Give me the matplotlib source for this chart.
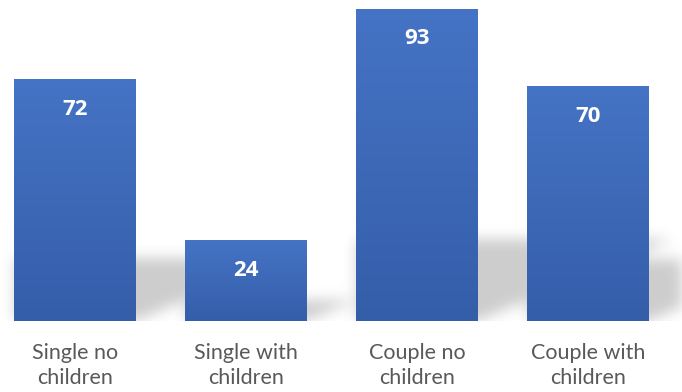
import numpy as np
import matplotlib
matplotlib.use("Agg")
import matplotlib.pyplot as plt
from matplotlib.colors import LinearSegmentedColormap

categories = ["Single no\nchildren", "Single with\nchildren", "Couple no\nchildren", "Couple with\nchildren"]
values = [72, 24, 93, 70]

plt.rcParams['font.family'] = ['Lato', 'DejaVu Sans']

W, H, DPI = 682, 392, 100
fig = plt.figure(figsize=(W / DPI, H / DPI), dpi=DPI)
ax = fig.add_axes([0, 1 - 321 / H, 1, (321 - 9) / H])
ax.set_xlim(-0.44, 3.547)
ax.set_ylim(0, 93)
for s in ax.spines.values():
    s.set_visible(False)
ax.set_yticks([])
x = np.arange(len(values))
ax.set_xticks(x)
ax.set_xticklabels(categories, fontsize=15.5, color="#595959", linespacing=1.3)
ax.tick_params(axis="x", length=0, pad=16)

bar_w = 0.713
bars = ax.bar(x, values, width=bar_w, color="none", zorder=3)

# vertical gradient fill inside each bar
grad_cmap = LinearSegmentedColormap.from_list("g", ["#355ea9", "#4573c5"])
grad = np.linspace(0, 1, 256).reshape(-1, 1)
for b in bars:
    x0, y0 = b.get_x(), b.get_y()
    ax.imshow(grad, cmap=grad_cmap, origin="lower", aspect="auto",
              extent=[x0, x0 + b.get_width(), y0, y0 + b.get_height()],
              zorder=3, interpolation="bilinear")

# soft perspective shadow behind bars, built in pixel space
fig.canvas.draw()
tr = ax.transData
ax_bb = ax.get_window_extent()
pw, ph = int(round(ax_bb.width)), int(round(ax_bb.height))
xs = np.arange(pw)[None, :]
ys = np.arange(ph)[:, None]  # 0 at baseline, upward
alpha = np.zeros((ph, pw))
for b in bars:
    (lx, _), (rx, top) = tr.transform([(b.get_x(), 0), (b.get_x() + b.get_width(), b.get_height())])
    lx -= ax_bb.x0
    rx -= ax_bb.x0
    hgt = top - ax_bb.y0
    hs = 0.26 * hgt
    lower = np.maximum(0, xs - rx) * 0.42
    m = (xs >= lx) & (ys >= lower) & (ys <= hs)
    alpha = np.maximum(alpha, m.astype(float))

def blur(a, sig):
    k = np.arange(-3 * sig, 3 * sig + 1)
    k = np.exp(-k ** 2 / (2 * sig ** 2))
    k /= k.sum()
    a = np.apply_along_axis(lambda r: np.convolve(r, k, mode="same"), 1, a)
    a = np.apply_along_axis(lambda c: np.convolve(c, k, mode="same"), 0, a)
    return a

alpha = blur(alpha, 7) * 0.2
rgba = np.zeros((ph, pw, 4))
rgba[..., 3] = alpha
ax.imshow(rgba, origin="lower", aspect="auto", extent=[*ax.get_xlim(), *ax.get_ylim()],
          zorder=1, interpolation="bilinear")

for xi, v in zip(x, values):
    ax.annotate(str(v), (xi, v), xytext=(0, -30), textcoords="offset pixels",
                ha="center", va="center", color="white", fontsize=16,
                fontweight="bold", family=["Open Sans", "DejaVu Sans"], zorder=5)

ax.set_xlim(-0.44, 3.547)
ax.set_ylim(0, 93)
fig.savefig("out.png", dpi=DPI)
